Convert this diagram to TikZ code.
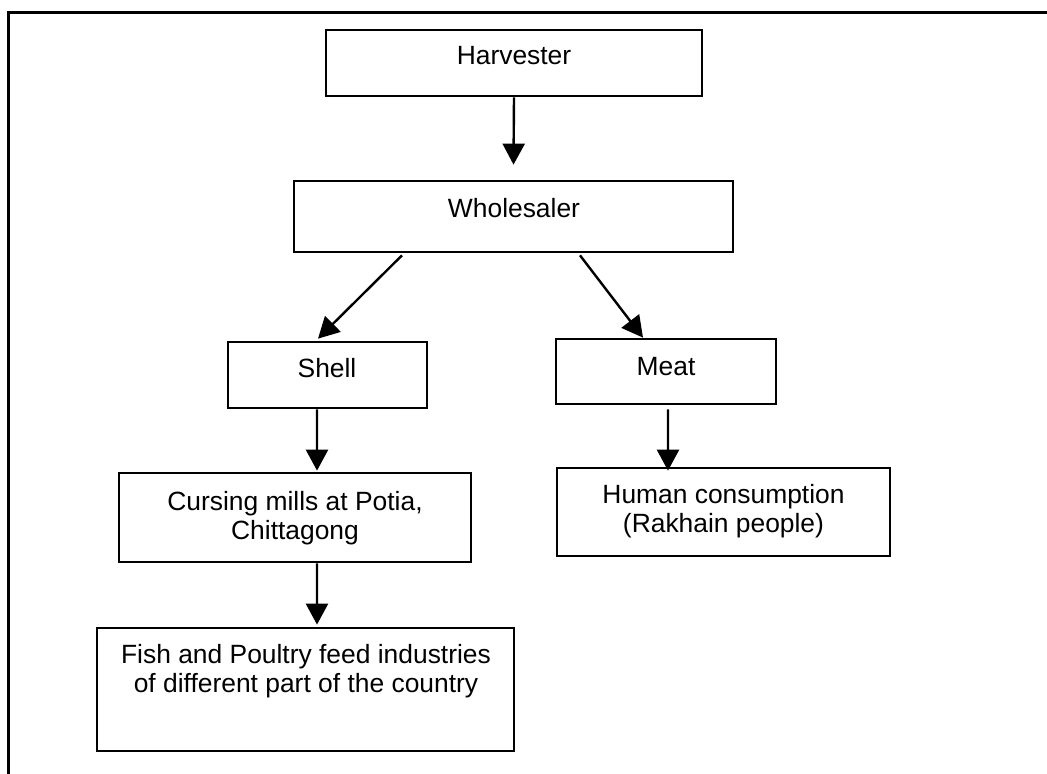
\documentclass[tikz,border=0pt]{standalone}
\usepackage{fontspec}
\setmainfont{Liberation Sans}
\usetikzlibrary{arrows.meta}
\begin{document}
\begin{tikzpicture}[x=1bp,y=-1bp,
  box/.style={draw=black,line width=2.7bp,rectangle,inner sep=0pt},
  lbl/.style={anchor=base,inner sep=0pt,font=\fontsize{26.4bp}{29.5bp}\selectfont},
  flow/.style={line width=2.4bp,-{Triangle[width=22bp,length=21bp]}}]
\useasboundingbox (0,0) rectangle (1047,774);
% outer frame (top and left edges)
\draw[line width=3bp] (8.8,774) -- (8.8,12.5) -- (1047,12.5);

% boxes
\node[box,minimum width=376bp,minimum height=66bp] (harv)  at (514,63) {};
\node[box,minimum width=439bp,minimum height=71bp] (who)   at (513.5,216.5) {};
\node[box,minimum width=199bp,minimum height=66bp] (shell) at (327.5,375) {};
\node[box,minimum width=220bp,minimum height=65bp] (meat)  at (666,371.5) {};
\node[box,minimum width=352bp,minimum height=89bp] (curs)  at (295,517.5) {};
\node[box,minimum width=417bp,minimum height=123bp] (fish) at (305.5,689.5) {};
\node[box,minimum width=333bp,minimum height=88bp] (human) at (723.5,512) {};

% labels
\node[lbl] (harv-t)  at (514,65)  {Harvester};
\node[lbl] (who-t)   at (514,217) {Wholesaler};
\node[lbl] (shell-t) at (327,377) {Shell};
\node[lbl] (meat-t)  at (666,375) {Meat};
\node[lbl] (curs-t)  at (295,510) {\begin{tabular}[t]{@{}c@{}}Cursing mills at Potia,\\Chittagong\end{tabular}};
\node[lbl] (fish-t)  at (306,663) {\begin{tabular}[t]{@{}c@{}}Fish and Poultry feed industries\\of different part of the country\end{tabular}};
\node[lbl] (human-t) at (723.5,503) {\begin{tabular}[t]{@{}c@{}}Human consumption\\(Rakhain people)\end{tabular}};

% connectors
\draw[flow] (harv.south) -- ([yshift=15bp]who.north);
\draw[flow] ([xshift=-111.5bp,yshift=-2bp]who.south) -- ([xshift=-9.5bp,yshift=2bp]shell.north);
\draw[flow] ([xshift=66.5bp,yshift=-2bp]who.south) -- ([xshift=-23bp]meat.north);
\draw[flow] ([xshift=-10.5bp]shell.south) -- ([xshift=22bp,yshift=1bp]curs.north);
\draw[flow] ([xshift=22bp]curs.south) -- ([xshift=11.5bp,yshift=2bp]fish.north);
\draw[flow] ([xshift=2bp,yshift=-4bp]meat.south) -- ([xshift=-55.5bp,yshift=-4bp]human.north);
\end{tikzpicture}
\end{document}
